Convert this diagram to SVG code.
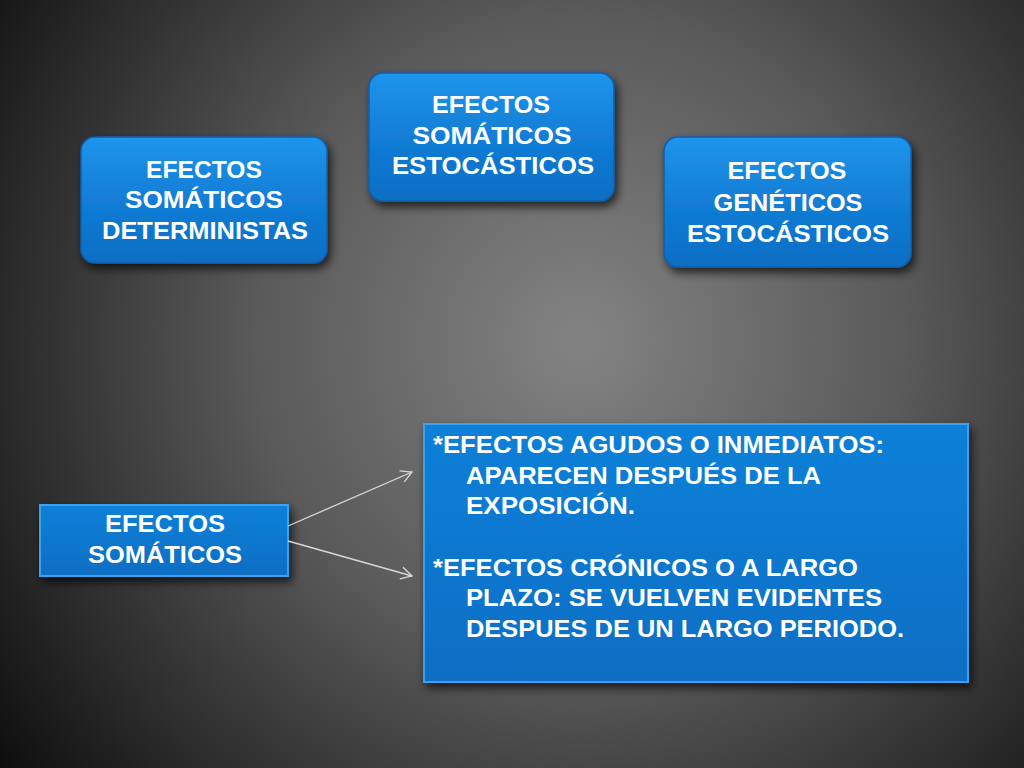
<svg xmlns="http://www.w3.org/2000/svg" width="1024" height="768" viewBox="0 0 1024 768">
<defs>
<radialGradient id="bg" cx="580" cy="340" r="720" gradientUnits="userSpaceOnUse">
<stop offset="0" stop-color="#838383"/>
<stop offset="0.45" stop-color="#5a5a5a"/>
<stop offset="1" stop-color="#0e0e0e"/>
</radialGradient>
<linearGradient id="blue" x1="0" y1="0" x2="0" y2="1">
<stop offset="0" stop-color="#2095ea"/>
<stop offset="0.5" stop-color="#127dd6"/>
<stop offset="1" stop-color="#0b6ec4"/>
</linearGradient>
<linearGradient id="flat" x1="0" y1="0" x2="0" y2="1">
<stop offset="0" stop-color="#0f80d8"/>
<stop offset="1" stop-color="#0a6ec4"/>
</linearGradient>
<filter id="sh" x="-20%" y="-20%" width="140%" height="150%">
<feGaussianBlur in="SourceAlpha" stdDeviation="5"/>
<feOffset dx="3" dy="5"/>
<feComponentTransfer><feFuncA type="linear" slope="0.7"/></feComponentTransfer>
<feMerge><feMergeNode/><feMergeNode in="SourceGraphic"/></feMerge>
</filter>
<marker id="arr" markerWidth="14" markerHeight="14" refX="12" refY="7" orient="auto" markerUnits="userSpaceOnUse">
<path d="M1,1 L12,7 L1,13" fill="none" stroke="#d8d8d8" stroke-width="1.3"/>
</marker>
<style>
.t{font-family:"Liberation Sans",Arial,sans-serif;font-weight:bold;font-size:23.5px;fill:#ffffff;}
.c{text-anchor:middle;}
.rbox{fill:url(#blue);stroke:#0a5fae;stroke-width:1.5;filter:url(#sh);}
.sbox{fill:url(#flat);stroke:#3aa0ee;stroke-width:2;filter:url(#sh);}
.conn{stroke:#d8d8d8;stroke-width:1.3;fill:none;}
</style>
</defs>
<rect width="1024" height="768" fill="url(#bg)"/>
<g id="n1">
<rect class="rbox" x="81" y="137" width="246" height="126" rx="14"/>
<text class="t c" x="204" y="178" textLength="116" lengthAdjust="spacingAndGlyphs">EFECTOS</text>
<text class="t c" x="204" y="208" textLength="158" lengthAdjust="spacingAndGlyphs">SOMÁTICOS</text>
<text class="t c" x="205" y="239" textLength="206" lengthAdjust="spacingAndGlyphs">DETERMINISTAS</text>
</g>
<g id="n2">
<rect class="rbox" x="369" y="73" width="245" height="128" rx="14"/>
<text class="t c" x="491" y="113" textLength="118" lengthAdjust="spacingAndGlyphs">EFECTOS</text>
<text class="t c" x="492" y="144" textLength="159" lengthAdjust="spacingAndGlyphs">SOMÁTICOS</text>
<text class="t c" x="493" y="174" textLength="202" lengthAdjust="spacingAndGlyphs">ESTOCÁSTICOS</text>
</g>
<g id="n3">
<rect class="rbox" x="664" y="137" width="247" height="130" rx="14"/>
<text class="t c" x="787" y="179" textLength="119" lengthAdjust="spacingAndGlyphs">EFECTOS</text>
<text class="t c" x="788" y="211" textLength="149" lengthAdjust="spacingAndGlyphs">GENÉTICOS</text>
<text class="t c" x="788" y="242" textLength="202" lengthAdjust="spacingAndGlyphs">ESTOCÁSTICOS</text>
</g>
<g id="n4">
<rect class="sbox" x="40" y="505" width="248" height="71"/>
<text class="t c" x="165" y="532" textLength="120" lengthAdjust="spacingAndGlyphs">EFECTOS</text>
<text class="t c" x="165" y="563" textLength="154" lengthAdjust="spacingAndGlyphs">SOMÁTICOS</text>
</g>
<g id="n5">
<rect class="sbox" x="424" y="424" width="544" height="258"/>
<text class="t" x="433" y="453" textLength="451" lengthAdjust="spacingAndGlyphs">*EFECTOS AGUDOS O INMEDIATOS:</text>
<text class="t" x="466" y="484" textLength="355" lengthAdjust="spacingAndGlyphs">APARECEN DESPUÉS DE LA</text>
<text class="t" x="466" y="514" textLength="169" lengthAdjust="spacingAndGlyphs">EXPOSICIÓN.</text>
<text class="t" x="433" y="576" textLength="425" lengthAdjust="spacingAndGlyphs">*EFECTOS CRÓNICOS O A LARGO</text>
<text class="t" x="466" y="606" textLength="416" lengthAdjust="spacingAndGlyphs">PLAZO: SE VUELVEN EVIDENTES</text>
<text class="t" x="466" y="637" textLength="438" lengthAdjust="spacingAndGlyphs">DESPUES DE UN LARGO PERIODO.</text>
</g>
<g id="connectors">
<line class="conn" x1="288" y1="526" x2="412" y2="472" marker-end="url(#arr)"/>
<line class="conn" x1="288" y1="541" x2="412" y2="576" marker-end="url(#arr)"/>
</g>
</svg>
